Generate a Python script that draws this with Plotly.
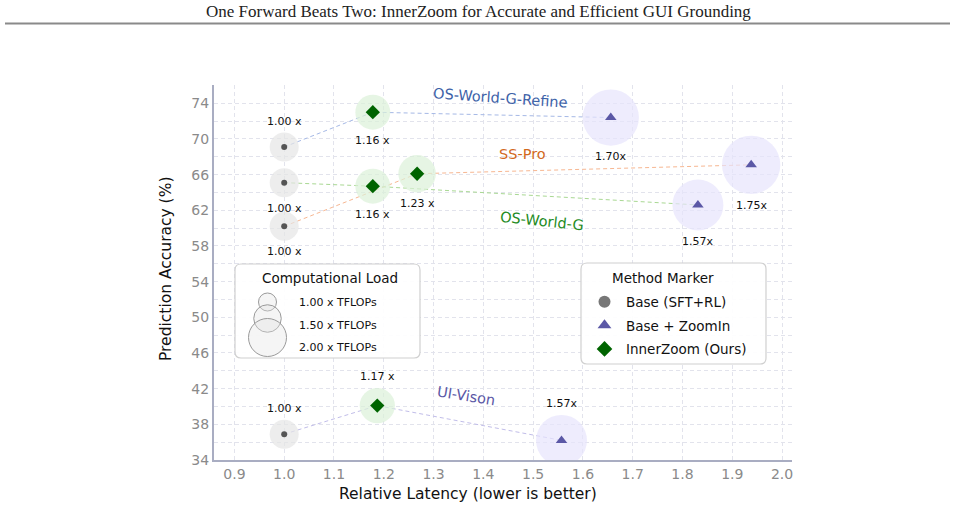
import plotly.graph_objects as go

# ---------------- data ----------------
series_names = ["OS-World-G-Refine", "SS-Pro", "OS-World-G", "UI-Vison"]
base_latency = [1.0, 1.0, 1.0, 1.0]
base_acc = [69.1, 60.2, 65.1, 36.9]
base_load = [1.00, 1.00, 1.00, 1.00]
base_labels = ["1.00 x", "1.00 x", "1.00 x", "1.00 x"]

inner_latency = [1.178, 1.267, 1.178, 1.187]
inner_acc = [73.0, 66.1, 64.7, 40.1]
inner_load = [1.16, 1.23, 1.16, 1.17]
inner_labels = ["1.16 x", "1.23 x", "1.16 x", "1.17 x"]

zoom_latency = [1.656, 1.938, 1.831, 1.557]
zoom_acc = [72.4, 67.1, 62.6, 36.2]
zoom_load = [1.70, 1.75, 1.57, 1.57]
zoom_labels = ["1.70x", "1.75x", "1.57x", "1.57x"]

# label side for each series (above / below the bubble)
base_side = ["above", "below", "below", "above"]
inner_side = ["below", "below", "below", "above"]
zoom_side = ["below", "below", "below", "above"]

x_ticks = [0.9, 1.0, 1.1, 1.2, 1.3, 1.4, 1.5, 1.6, 1.7, 1.8, 1.9, 2.0]
y_ticks = [34, 38, 42, 46, 50, 54, 58, 62, 66, 70, 74]
legend_loads = [1.00, 1.50, 2.00]

# ---------------- styles ----------------
FONT = "DejaVu Sans"
line_colors = ["#a6b9e6", "#f7b792", "#a9d893", "#c1bde9"]
name_colors = ["#3d62a8", "#d2691e", "#238b23", "#5b58a6"]
GRAY_BUB, GRAY_DOT = "#e6e6e6", "#555555"
GREEN_BUB, GREEN_MK = "#dcf1d8", "#006400"
PURP_BUB, PURP_MK = "#e7e4fc", "#5b58a6"

W, H = 955, 511
L, R, T, B = 214, 163, 85, 51
PW, PH = W - L - R, H - T - B


def px(xp):
    return (xp - L) / PW


def py(yp):
    return (H - B - yp) / PH


def bubble_d(load):
    return 29 * load ** 1.25


fig = go.Figure()

# connecting dashed lines
for i in range(len(series_names)):
    fig.add_trace(go.Scatter(
        x=[base_latency[i], inner_latency[i], zoom_latency[i]],
        y=[base_acc[i], inner_acc[i], zoom_acc[i]],
        mode="lines", line=dict(color=line_colors[i], width=1, dash="4px,3px"),
        showlegend=False, hoverinfo="skip"))

# bubbles
for lat, acc, load, col in [(base_latency, base_acc, base_load, GRAY_BUB),
                            (inner_latency, inner_acc, inner_load, GREEN_BUB),
                            (zoom_latency, zoom_acc, zoom_load, PURP_BUB)]:
    fig.add_trace(go.Scatter(
        x=lat, y=acc, mode="markers",
        marker=dict(size=[bubble_d(v) for v in load], color=col, line=dict(width=0)),
        showlegend=False, hoverinfo="skip"))

# centre markers
fig.add_trace(go.Scatter(x=base_latency, y=base_acc, mode="markers",
                         marker=dict(symbol="circle", size=6, color=GRAY_DOT),
                         showlegend=False))
fig.add_trace(go.Scatter(x=zoom_latency, y=zoom_acc, mode="markers",
                         marker=dict(symbol="triangle-up", size=10, color=PURP_MK),
                         showlegend=False))
fig.add_trace(go.Scatter(x=inner_latency, y=inner_acc, mode="markers",
                         marker=dict(symbol="diamond", size=11, color=GREEN_MK),
                         showlegend=False))

# legend entries
for k, (name, sym, col) in enumerate([("Base (SFT+RL)", "circle", "#777777"),
                                      ("Base + ZoomIn", "triangle-up", PURP_MK),
                                      ("InnerZoom (Ours)", "diamond", GREEN_MK)]):
    fig.add_trace(go.Scatter(x=[None], y=[None], mode="markers", name=name,
                             legendgroup=f"g{k}",
                             marker=dict(symbol=sym, size=12, color=col)))

annotations = []
# speed-up labels
for lat, acc, load, labs, side in [(base_latency, base_acc, base_load, base_labels, base_side),
                                   (inner_latency, inner_acc, inner_load, inner_labels, inner_side),
                                   (zoom_latency, zoom_acc, zoom_load, zoom_labels, zoom_side)]:
    for i in range(len(lat)):
        off = bubble_d(load[i]) / 2 + 11
        annotations.append(dict(
            x=lat[i], y=acc[i], xref="x", yref="y", text=labs[i], showarrow=False,
            xanchor="center", yanchor="middle",
            yshift=off if side[i] == "above" else -off,
            font=dict(family=FONT, size=11, color="#111111")))

# series names
name_pos = [(1.435, 74.55, 4), (1.479, 68.3, 0), (1.517, 60.8, 6), (1.367, 41.2, 9)]
for i, (xx, yy, ang) in enumerate(name_pos):
    annotations.append(dict(x=xx, y=yy, xref="x", yref="y", text=series_names[i],
                            showarrow=False, textangle=ang, xanchor="center", yanchor="middle",
                            font=dict(family=FONT, size=14.5, color=name_colors[i])))


def paper_text(xp, yp, text, size, color="#111111", family=FONT, angle=0, xanchor="center"):
    return dict(x=px(xp), y=py(yp), xref="paper", yref="paper", text=text, showarrow=False,
                xanchor=xanchor, yanchor="middle", textangle=angle,
                font=dict(family=family, size=size, color=color))


# axis titles
annotations.append(paper_text(468, 494, "Relative Latency (lower is better)", 15.5))
annotations.append(paper_text(166, 269, "Prediction Accuracy (%)", 15.5, angle=-90))

# page header
annotations.append(paper_text(478, 12,
                              "One Forward Beats Two: InnerZoom for Accurate and Efficient GUI Grounding",
                              17, color="#222222", family="Liberation Serif"))

# legend titles
annotations.append(paper_text(330, 278, "Computational Load", 13.5))
annotations.append(paper_text(663, 278, "Method Marker", 13.5))

circle_specs = [(302, 18), (318.5, 27.5), (337.5, 38)]
text_rows = [302.5, 325, 347.5]
shapes = []


def rounded_rect(x0, y0, x1, y1, r):
    pts = (f"M {px(x0 + r)},{py(y0)} L {px(x1 - r)},{py(y0)} "
           f"Q {px(x1)},{py(y0)} {px(x1)},{py(y0 + r)} L {px(x1)},{py(y1 - r)} "
           f"Q {px(x1)},{py(y1)} {px(x1 - r)},{py(y1)} L {px(x0 + r)},{py(y1)} "
           f"Q {px(x0)},{py(y1)} {px(x0)},{py(y1 - r)} L {px(x0)},{py(y0 + r)} "
           f"Q {px(x0)},{py(y0)} {px(x0 + r)},{py(y0)} Z")
    return dict(type="path", path=pts, xref="paper", yref="paper",
                fillcolor="rgba(255,255,255,0.92)", line=dict(color="#d0d0d0", width=1.2),
                layer="above")


shapes.append(rounded_rect(235, 264, 420, 358, 6))
shapes.append(rounded_rect(581, 263, 766, 364, 6))

for (cy, d), load, ty in zip(circle_specs, legend_loads, text_rows):
    shapes.append(dict(type="circle", xref="paper", yref="paper",
                       x0=px(267.5 - d / 2), x1=px(267.5 + d / 2),
                       y0=py(cy + d / 2), y1=py(cy - d / 2),
                       fillcolor="rgba(225,225,225,0.35)", line=dict(color="#9a9a9a", width=1),
                       layer="above"))
    annotations.append(paper_text(297, ty, f"{load:.2f} x TFLOPs", 11, xanchor="left"))

# header rule
shapes.append(dict(type="line", xref="paper", yref="paper", x0=px(5), x1=px(950),
                   y0=py(23.5), y1=py(23.5), line=dict(color="#8a8a8a", width=2)))

grid_col = "#e2e3ec"
fig.update_layout(
    width=W, height=H, autosize=False,
    margin=dict(l=L, r=R, t=T, b=B, pad=0),
    plot_bgcolor="white", paper_bgcolor="white",
    font=dict(family=FONT),
    annotations=annotations, shapes=shapes,
    showlegend=True,
    legend=dict(x=px(583), y=py(286.5), xanchor="left", yanchor="top",
                bgcolor="rgba(0,0,0,0)", borderwidth=0, traceorder="grouped",
                font=dict(family=FONT, size=13.5, color="#111111"),
                itemwidth=33, tracegroupgap=3),
    xaxis=dict(range=[0.859, 2.02], tickvals=x_ticks, ticktext=[f"{v:.1f}" for v in x_ticks],
               showgrid=True, gridcolor=grid_col, griddash="4px,3px", gridwidth=1,
               showline=True, linecolor="#a9adc2", linewidth=2, ticks="",
               zeroline=False, tickfont=dict(family=FONT, size=14, color="#8a8a8a")),
    yaxis=dict(range=[34, 76.05], tickvals=y_ticks,
               showgrid=True, gridcolor=grid_col, griddash="4px,3px", gridwidth=1,
               minor=dict(dtick=2, tick0=34, showgrid=True, gridcolor=grid_col,
                          griddash="4px,3px", gridwidth=1),
               showline=True, linecolor="#a9adc2", linewidth=2, ticks="",
               zeroline=False, tickfont=dict(family=FONT, size=14, color="#8a8a8a")),
)

fig.write_html("out.html")
